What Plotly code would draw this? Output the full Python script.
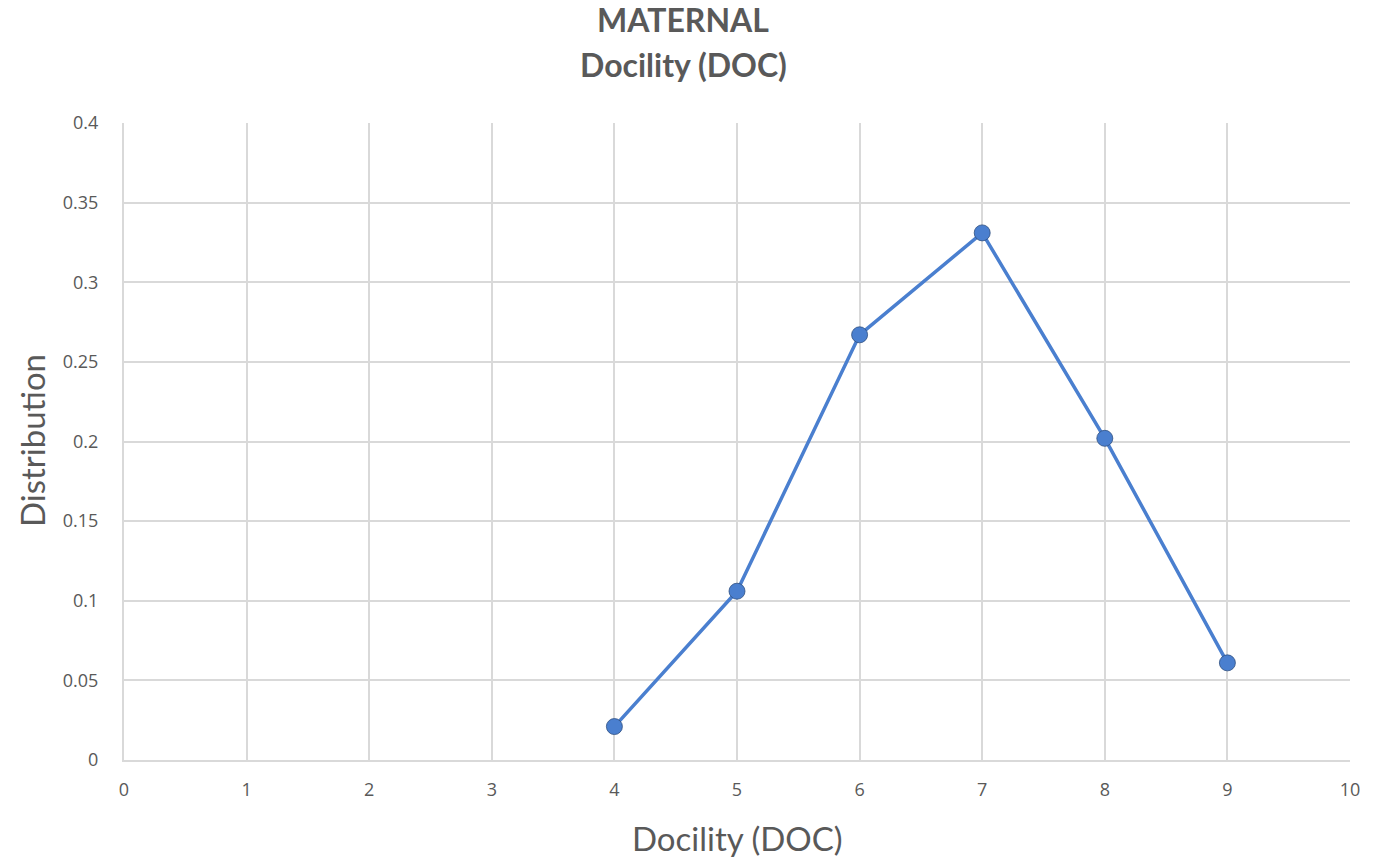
import plotly.graph_objects as go

doc_scores = [4, 5, 6, 7, 8, 9]
distribution = [0.021, 0.106, 0.267, 0.331, 0.202, 0.061]
x_ticks = [0, 1, 2, 3, 4, 5, 6, 7, 8, 9, 10]
y_ticks = [0, 0.05, 0.1, 0.15, 0.2, 0.25, 0.3, 0.35, 0.4]
y_tick_labels = ["0", "0.05", "0.1", "0.15", "0.2", "0.25", "0.3", "0.35", "0.4"]
title_lines = ["MATERNAL", "Docility (DOC)"]
x_title = "Docility (DOC)"
y_title = "Distribution"

fig = go.Figure()
fig.add_trace(go.Scatter(
    x=doc_scores, y=distribution, mode="lines+markers",
    line=dict(color="#4A7FCF", width=3.5),
    marker=dict(size=16, color="#4A7FCF", line=dict(color="#2f4f80", width=0.8)),
    showlegend=False,
))

title_font = dict(family="Lato, Open Sans, sans-serif", size=32, color="#595959", weight="bold")
for line_text, ypos in zip(title_lines, [1.1617, 1.0926]):
    fig.add_annotation(
        text=line_text, xref="paper", yref="paper", x=(683 - 124) / 1226, y=ypos,
        xanchor="center", yanchor="middle", showarrow=False, font=title_font,
    )

axis_title_font = dict(family="Lato, Open Sans, sans-serif", size=33, color="#595959")
fig.add_annotation(text=x_title, xref="paper", yref="paper", x=0.5, y=-0.1224,
                   xanchor="center", yanchor="middle", showarrow=False, font=axis_title_font)
fig.add_annotation(text=y_title, xref="paper", yref="paper", x=-0.075, y=0.5008, textangle=-90,
                   xanchor="center", yanchor="middle", showarrow=False, font=axis_title_font)

grid = "#d9d9d9"
fig.update_layout(
    width=1389, height=858,
    paper_bgcolor="white", plot_bgcolor="white",
    margin=dict(l=124, r=39, t=123, b=98, autoexpand=False),
    font=dict(family="Open Sans, sans-serif", color="#595959"),
)
fig.update_xaxes(
    range=[0, 10], tickvals=x_ticks, ticktext=[str(t) for t in x_ticks],
    showgrid=True, gridcolor=grid, gridwidth=2,
    showline=True, linecolor=grid, linewidth=2, automargin=False,
    zeroline=False, ticks="", tickfont=dict(size=18, color="#595959"),
    ticklabelstandoff=12,
)
fig.update_yaxes(
    range=[0, 0.4], tickvals=y_ticks, ticktext=y_tick_labels,
    showgrid=True, gridcolor=grid, gridwidth=2,
    showline=True, linecolor=grid, linewidth=2, automargin=False,
    zeroline=False, ticks="", tickfont=dict(size=18, color="#595959"),
    ticklabelstandoff=20,
)

fig.write_html("out.html")
